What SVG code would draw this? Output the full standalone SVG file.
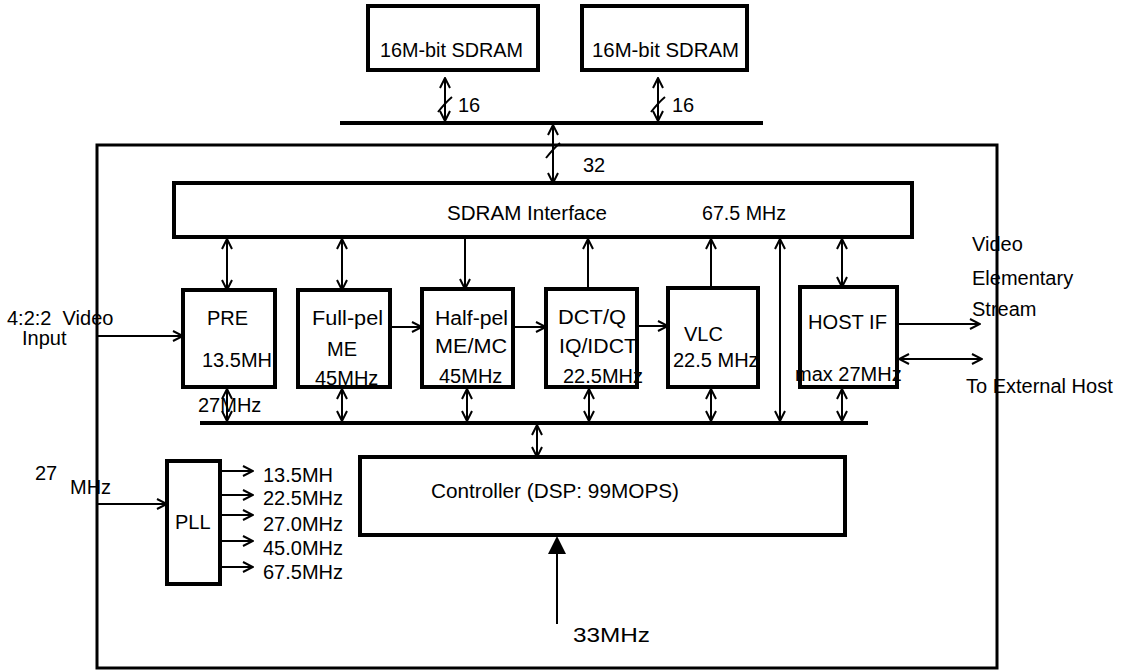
<svg xmlns="http://www.w3.org/2000/svg" width="1135" height="672" viewBox="0 0 1135 672">
<style>
.t{font-family:"Liberation Sans",Arial,sans-serif;font-size:20px;fill:#000}
.box{fill:#fff;stroke:#000;stroke-width:4}
.c{stroke:#000;stroke-width:2;fill:none}
.bus{stroke:#000;stroke-width:4;fill:none}
</style>
<defs>
<marker id="a" viewBox="0 0 12 12" refX="11" refY="6" markerWidth="12" markerHeight="12" markerUnits="userSpaceOnUse" orient="auto-start-reverse">
<path d="M1,1 L11,6 L1,11" fill="none" stroke="#000" stroke-width="2"/>
</marker>
</defs>
<rect width="1135" height="672" fill="#fff"/>

<g id="chip">
<rect x="97" y="145" width="900" height="523" fill="none" stroke="#000" stroke-width="3"/>
</g>

<g id="connectors">
<line class="bus" x1="340" y1="123" x2="763" y2="123"/>
<line class="bus" x1="200" y1="423" x2="868" y2="423"/>
<line class="c" x1="445" y1="78" x2="445" y2="121" marker-start="url(#a)" marker-end="url(#a)"/>
<path class="c" d="M438,112 Q446,102 452,97"/>
<text class="t" x="458" y="112">16</text>
<line class="c" x1="658" y1="78" x2="658" y2="121" marker-start="url(#a)" marker-end="url(#a)"/>
<path class="c" d="M651,112 Q659,102 665,97"/>
<text class="t" x="672" y="112">16</text>
<line class="c" x1="553" y1="125" x2="553" y2="183" marker-start="url(#a)" marker-end="url(#a)"/>
<path class="c" d="M546,158 Q554,148 560,143"/>
<text class="t" x="583" y="172">32</text>
<line class="c" x1="227" y1="239" x2="227" y2="290" marker-start="url(#a)" marker-end="url(#a)"/>
<line class="c" x1="342" y1="239" x2="342" y2="290" marker-start="url(#a)" marker-end="url(#a)"/>
<line class="c" x1="465" y1="239" x2="465" y2="289" marker-end="url(#a)"/>
<line class="c" x1="588" y1="289" x2="588" y2="239" marker-end="url(#a)"/>
<line class="c" x1="711" y1="288" x2="711" y2="239" marker-end="url(#a)"/>
<line class="c" x1="780" y1="239" x2="780" y2="421" marker-start="url(#a)" marker-end="url(#a)"/>
<line class="c" x1="842" y1="239" x2="842" y2="287" marker-start="url(#a)" marker-end="url(#a)"/>
<line class="c" x1="227" y1="389" x2="227" y2="421" marker-start="url(#a)" marker-end="url(#a)"/>
<line class="c" x1="342" y1="389" x2="342" y2="421" marker-start="url(#a)" marker-end="url(#a)"/>
<line class="c" x1="467" y1="389" x2="467" y2="421" marker-start="url(#a)" marker-end="url(#a)"/>
<line class="c" x1="589" y1="389" x2="589" y2="421" marker-start="url(#a)" marker-end="url(#a)"/>
<line class="c" x1="711" y1="389" x2="711" y2="421" marker-start="url(#a)" marker-end="url(#a)"/>
<line class="c" x1="842" y1="389" x2="842" y2="421" marker-start="url(#a)" marker-end="url(#a)"/>
<line class="c" x1="537" y1="425" x2="537" y2="457" marker-start="url(#a)" marker-end="url(#a)"/>
<line class="c" x1="392" y1="327" x2="422" y2="327" marker-end="url(#a)"/>
<line class="c" x1="515" y1="327" x2="546" y2="327" marker-end="url(#a)"/>
<line class="c" x1="639" y1="326" x2="668" y2="326" marker-end="url(#a)"/>
<line class="c" x1="97" y1="336" x2="183" y2="336" marker-end="url(#a)"/>
<line class="c" x1="97" y1="504" x2="167" y2="504" marker-end="url(#a)"/>
<line class="c" x1="897" y1="324" x2="980" y2="324" marker-end="url(#a)"/>
<line class="c" x1="899" y1="359" x2="982" y2="359" marker-start="url(#a)" marker-end="url(#a)"/>
<line class="c" x1="220" y1="471" x2="253" y2="471" marker-end="url(#a)"/>
<line class="c" x1="220" y1="495" x2="253" y2="495" marker-end="url(#a)"/>
<line class="c" x1="220" y1="515" x2="253" y2="515" marker-end="url(#a)"/>
<line class="c" x1="220" y1="541" x2="253" y2="541" marker-end="url(#a)"/>
<line class="c" x1="220" y1="567" x2="253" y2="567" marker-end="url(#a)"/>
<line class="c" x1="557" y1="624" x2="557" y2="552"/>
<polygon points="548,554 566,554 557,536" fill="#000"/>
</g>

<g id="labels">
<text class="t" x="7" y="325" xml:space="preserve" font-size="19">4:2:2  Video</text>
<text class="t" x="22" y="345" font-size="19">Input</text>
<text class="t" x="35" y="480">27</text>
<text class="t" x="70" y="494">MHz</text>
<text class="t" x="198" y="412">27MHz</text>
<text class="t" x="972" y="251">Video</text>
<text class="t" x="972" y="285">Elementary</text>
<text class="t" x="972" y="316">Stream</text>
<text class="t" x="966" y="393">To External Host</text>
<text class="t" x="573" y="642" textLength="77" lengthAdjust="spacingAndGlyphs">33MHz</text>
<text class="t" x="263" y="482">13.5MH</text>
<text class="t" x="263" y="505">22.5MHz</text>
<text class="t" x="263" y="531">27.0MHz</text>
<text class="t" x="263" y="555">45.0MHz</text>
<text class="t" x="263" y="579">67.5MHz</text>
</g>

<g id="sdram1">
<rect class="box" x="368" y="6" width="170" height="64"/>
<text class="t" x="380" y="57" textLength="143" lengthAdjust="spacingAndGlyphs">16M-bit SDRAM</text>
</g>
<g id="sdram2">
<rect class="box" x="582" y="6" width="165" height="64"/>
<text class="t" x="592" y="57" textLength="147" lengthAdjust="spacingAndGlyphs">16M-bit SDRAM</text>
</g>
<g id="sdram-if">
<rect class="box" x="174" y="183" width="738" height="54"/>
<text class="t" x="447" y="220" textLength="160" lengthAdjust="spacingAndGlyphs">SDRAM Interface</text>
<text class="t" x="702" y="220" textLength="84" lengthAdjust="spacingAndGlyphs">67.5 MHz</text>
</g>
<g id="pre">
<rect class="box" x="183" y="290" width="92" height="97"/>
<text class="t" x="207" y="325">PRE</text>
<text class="t" x="202" y="367">13.5MH</text>
</g>
<g id="fullpel">
<rect class="box" x="298" y="290" width="92" height="97"/>
<text class="t" x="312" y="325" textLength="71" lengthAdjust="spacingAndGlyphs">Full-pel</text>
<text class="t" x="327" y="356">ME</text>
<text class="t" x="315" y="385">45MHz</text>
</g>
<g id="halfpel">
<rect class="box" x="422" y="289" width="91" height="98"/>
<text class="t" x="435" y="325" textLength="73" lengthAdjust="spacingAndGlyphs">Half-pel</text>
<text class="t" x="435" y="353" textLength="72" lengthAdjust="spacingAndGlyphs">ME/MC</text>
<text class="t" x="439" y="383">45MHz</text>
</g>
<g id="dct">
<rect class="box" x="546" y="289" width="91" height="98"/>
<text class="t" x="558" y="324" textLength="68" lengthAdjust="spacingAndGlyphs">DCT/Q</text>
<text class="t" x="559" y="353" textLength="78" lengthAdjust="spacingAndGlyphs">IQ/IDCT</text>
<text class="t" x="563" y="383">22.5MHz</text>
</g>
<g id="vlc">
<rect class="box" x="668" y="288" width="90" height="99"/>
<text class="t" x="684" y="341">VLC</text>
<text class="t" x="673" y="367">22.5 MHz</text>
</g>
<g id="hostif">
<rect class="box" x="800" y="287" width="97" height="100"/>
<text class="t" x="808" y="329" textLength="79" lengthAdjust="spacingAndGlyphs">HOST IF</text>
<text class="t" x="795" y="381">max 27MHz</text>
</g>
<g id="controller">
<rect class="box" x="360" y="457" width="485" height="78" stroke-width="3.5"/>
<text class="t" x="431" y="498" textLength="248" lengthAdjust="spacingAndGlyphs">Controller (DSP: 99MOPS)</text>
</g>
<g id="pll">
<rect class="box" x="167" y="461" width="53" height="123"/>
<text class="t" x="175" y="529">PLL</text>
</g>
</svg>
